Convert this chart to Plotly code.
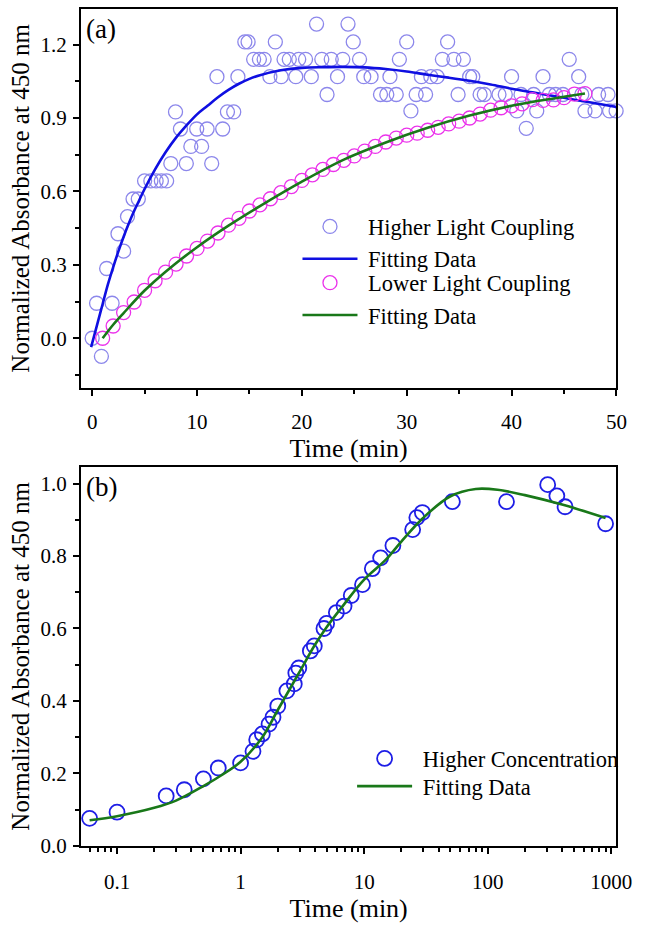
import plotly.graph_objects as go

# ---------------- Panel (a) data ----------------
hi_t = [0.0, 0.42, 0.88, 1.38, 1.9, 2.46, 3.0, 3.37, 3.9, 4.4, 5.0, 5.6, 6.1, 6.6, 7.1,
        7.5, 7.95, 8.42, 8.98, 9.41, 9.97, 10.44, 10.96, 11.4, 11.9, 12.45, 12.9, 13.5,
        13.9, 14.56, 14.87, 15.4, 15.95, 16.4, 16.95, 17.47, 18.03, 18.3, 18.8, 19.42,
        19.7, 20.35, 20.9, 21.4, 21.9, 22.4, 22.8, 23.4, 23.9, 24.4, 24.9, 25.5, 25.9,
        26.6, 27.5, 28.1, 28.4, 29.0, 29.3, 30.0, 30.4, 30.9, 31.4, 31.8, 32.3, 32.9,
        33.4, 33.9, 34.5, 34.9, 35.4, 36.0, 36.3, 37.0, 37.4, 38.8, 39.4, 40.0, 40.5,
        40.9, 41.4, 42.1, 42.4, 43.0, 43.6, 44.2, 44.9, 45.5, 46.4, 46.7, 47.0, 47.96,
        48.3, 49.2, 49.35, 49.97]
hi_v = [0.0, 0.143, -0.074, 0.285, 0.143, 0.427, 0.356, 0.497, 0.569, 0.569, 0.643, 0.643,
        0.643, 0.643, 0.643, 0.714, 0.925, 0.855, 0.714, 0.784, 0.855, 0.784, 0.855, 0.714,
        1.069, 0.855, 0.925, 0.925, 1.069, 1.211, 1.211, 1.14, 1.14, 1.14, 1.069, 1.211,
        1.069, 1.14, 1.14, 1.069, 1.14, 1.14, 1.069, 1.284, 1.14, 0.996, 1.14, 1.069, 1.14,
        1.284, 1.211, 1.14, 1.069, 1.069, 0.996, 0.996, 1.069, 0.996, 1.14, 1.211, 0.929,
        0.996, 1.069, 0.996, 1.069, 1.069, 1.14, 1.211, 1.14, 0.996, 1.14, 1.069, 1.069,
        0.996, 0.996, 0.996, 0.996, 1.069, 0.929, 0.996, 0.858, 0.996, 0.929, 1.069, 0.996,
        0.996, 0.996, 1.14, 1.069, 0.996, 0.929, 0.929, 0.996, 0.996, 0.929, 0.929]

hi_fit_t = [-0.1, 0.5, 1.0, 1.5, 2.0, 2.5, 3.0, 3.5, 4.0, 4.5, 5.0, 6.0, 7.0, 8.0, 9.0, 10.0,
            11.0, 12.0, 13.0, 14.0, 15.0, 16.0, 18.0, 20.0, 22.0, 24.0, 26.0, 28.0, 30.0,
            32.0, 34.0, 36.0, 38.0, 40.0, 42.0, 44.0, 46.0, 48.0, 50.0]
hi_fit_v = [-0.036, 0.06, 0.14, 0.22, 0.29, 0.355, 0.415, 0.47, 0.52, 0.565, 0.61, 0.69,
            0.76, 0.82, 0.87, 0.915, 0.95, 0.985, 1.015, 1.04, 1.06, 1.075, 1.095, 1.105,
            1.108, 1.109, 1.107, 1.10, 1.09, 1.077, 1.065, 1.052, 1.037, 1.02, 1.005, 0.99,
            0.975, 0.96, 0.945]

lo_t = list(range(1, 48))
lo_v = [0.0, 0.05, 0.105, 0.148, 0.196, 0.235, 0.27, 0.303, 0.336, 0.367, 0.397, 0.43,
        0.462, 0.49, 0.52, 0.545, 0.57, 0.595, 0.62, 0.645, 0.668, 0.69, 0.71, 0.727,
        0.745, 0.765, 0.784, 0.802, 0.818, 0.83, 0.838, 0.85, 0.862, 0.876, 0.887, 0.9,
        0.916, 0.932, 0.942, 0.95, 0.958, 0.975, 0.972, 0.974, 0.983, 0.998, 1.0]

lo_fit_t = [1, 2, 3, 5, 7, 10, 13, 16, 20, 24, 28, 32, 36, 40, 44, 47]
lo_fit_v = [0.0, 0.055, 0.103, 0.195, 0.272, 0.372, 0.46, 0.54, 0.64, 0.73, 0.80, 0.86,
            0.91, 0.95, 0.98, 1.0]

# ---------------- Panel (b) data ----------------
conc_t = [0.06, 0.1, 0.25, 0.35, 0.5, 0.66, 1.0, 1.26, 1.35, 1.5, 1.7, 1.83, 2.0, 2.37,
          2.72, 2.8, 2.96, 3.67, 3.95, 4.73, 4.97, 5.96, 6.88, 7.87, 9.7, 11.65, 13.6,
          17.1, 24.7, 26.7, 29.6, 51.8, 142, 306, 363, 423, 900]
conc_v = [0.076, 0.093, 0.138, 0.155, 0.185, 0.215, 0.229, 0.261, 0.293, 0.309, 0.336,
          0.355, 0.386, 0.428, 0.447, 0.477, 0.491, 0.538, 0.552, 0.600, 0.614, 0.644,
          0.662, 0.691, 0.721, 0.765, 0.795, 0.829, 0.873, 0.906, 0.920, 0.950, 0.950,
          0.997, 0.966, 0.936, 0.889]

conc_fit_t = [0.06, 0.1, 0.2, 0.3, 0.5, 0.7, 1.0, 1.5, 2.0, 3.0, 4.0, 5.0, 7.0, 10.0, 15.0,
              20.0, 30.0, 50.0, 80.0, 120, 200, 400, 900]
conc_fit_v = [0.071, 0.082, 0.105, 0.125, 0.165, 0.195, 0.232, 0.30, 0.375, 0.48, 0.555,
              0.605, 0.67, 0.735, 0.79, 0.84, 0.905, 0.965, 0.985, 0.983, 0.968, 0.942, 0.905]

FONT = "Times New Roman"
W, H = 649, 927

LAV = "rgb(140,135,235)"
PINK = "rgb(235,50,235)"
BLUE = "rgb(15,15,225)"
GREEN = "rgb(25,120,25)"
BLUE_B = "rgb(30,30,230)"
SP = "\u00a0"

fig = go.Figure()

fig.add_trace(go.Scatter(x=hi_t, y=hi_v, mode="markers", name=SP + "Higher Light Coupling",
                         marker=dict(symbol="circle-open", size=14, color=LAV, line=dict(width=1.3)),
                         cliponaxis=False, xaxis="x", yaxis="y", legend="legend"))
fig.add_trace(go.Scatter(x=hi_fit_t, y=hi_fit_v, mode="lines", name=SP + "Fitting Data",
                         line=dict(color=BLUE, width=2.6, shape="spline"),
                         xaxis="x", yaxis="y", legend="legend"))
fig.add_trace(go.Scatter(x=lo_t, y=lo_v, mode="markers", name=SP + "Lower Light Coupling",
                         marker=dict(symbol="circle-open", size=14, color=PINK, line=dict(width=1.3)),
                         xaxis="x", yaxis="y", legend="legend3"))
fig.add_trace(go.Scatter(x=lo_fit_t, y=lo_fit_v, mode="lines", name=SP + "Fitting Data",
                         line=dict(color=GREEN, width=2.6, shape="spline"),
                         xaxis="x", yaxis="y", legend="legend3"))

fig.add_trace(go.Scatter(x=conc_t, y=conc_v, mode="markers", name=SP + "Higher Concentration",
                         marker=dict(symbol="circle-open", size=15, color=BLUE_B, line=dict(width=1.8)),
                         cliponaxis=False, xaxis="x2", yaxis="y2", legend="legend2"))
fig.add_trace(go.Scatter(x=conc_fit_t, y=conc_fit_v, mode="lines", name=SP + "Fitting Data",
                         line=dict(color=GREEN, width=2.6, shape="spline"),
                         xaxis="x2", yaxis="y2", legend="legend4"))

xdom = [83 / W, 632 / W]
ydom_a = [1 - 393 / H, 1 - 9 / H]
ydom_b = [1 - 857 / H, 1 - 473 / H]

tickfont = dict(family=FONT, size=21, color="black")
titlefont = dict(family=FONT, size=25, color="black")
xtitlefont = dict(family=FONT, size=26, color="black")
common = dict(showline=True, linecolor="black", linewidth=2, mirror=True, showgrid=False,
              zeroline=False, ticks="outside", ticklen=6, tickwidth=1.5, tickcolor="black",
              tickfont=tickfont)
minor_style = dict(ticks="outside", ticklen=4, tickwidth=1.5, tickcolor="black", showgrid=False)
legfont = dict(family=FONT, size=22.5, color="black")


def leg(px_x, px_top):
    return dict(x=px_x / W, y=1 - px_top / H, xanchor="left", yanchor="top",
                bgcolor="rgba(0,0,0,0)", itemwidth=55, font=legfont)


fig.update_layout(
    width=W, height=H, margin=dict(l=0, r=0, t=0, b=0),
    paper_bgcolor="white", plot_bgcolor="white",
    font=dict(family=FONT, color="black"),
    xaxis=dict(domain=xdom, anchor="y", range=[-1.07, 50], tick0=0, dtick=10,
               ticklabelstandoff=8,
               minor=dict(dtick=5, **minor_style),
               title=dict(text="Time (min)", font=xtitlefont, standoff=6), **common),
    yaxis=dict(domain=ydom_a, anchor="x", range=[-0.203, 1.346], tick0=0, dtick=0.3,
               tickformat=".1f", ticklabelstandoff=2,
               minor=dict(dtick=0.15, **minor_style),
               title=dict(text="Normalized Absorbance at 450 nm", font=titlefont, standoff=4),
               **common),
    xaxis2=dict(domain=xdom, anchor="y2", type="log", range=[-1.292, 3.042],
                tick0=0, dtick=1, exponentformat="none", ticklabelstandoff=10,
                minor=dict(dtick="D1", **minor_style),
                title=dict(text="Time (min)", font=xtitlefont, standoff=5), **common),
    yaxis2=dict(domain=ydom_b, anchor="x2", range=[0, 1.046], tick0=0, dtick=0.2,
                tickformat=".1f", ticklabelstandoff=2,
                minor=dict(dtick=0.1, **minor_style),
                title=dict(text="Normalized Absorbance at 450 nm", font=titlefont, standoff=4),
                **common),
    legend=leg(305, 208),
    legend3=leg(305, 265),
    legend2=leg(361, 747),
    legend4=leg(361, 775),
    showlegend=True,
    annotations=[
        dict(text="(a)", x=86 / W, y=1 - 29 / H, xref="paper", yref="paper",
             xanchor="left", yanchor="middle", showarrow=False,
             font=dict(family=FONT, size=27, color="black")),
        dict(text="(b)", x=86 / W, y=1 - 493 / H, xref="paper", yref="paper",
             xanchor="left", yanchor="middle", showarrow=False,
             font=dict(family=FONT, size=27, color="black")),
    ],
)

fig.write_html("out.html")
